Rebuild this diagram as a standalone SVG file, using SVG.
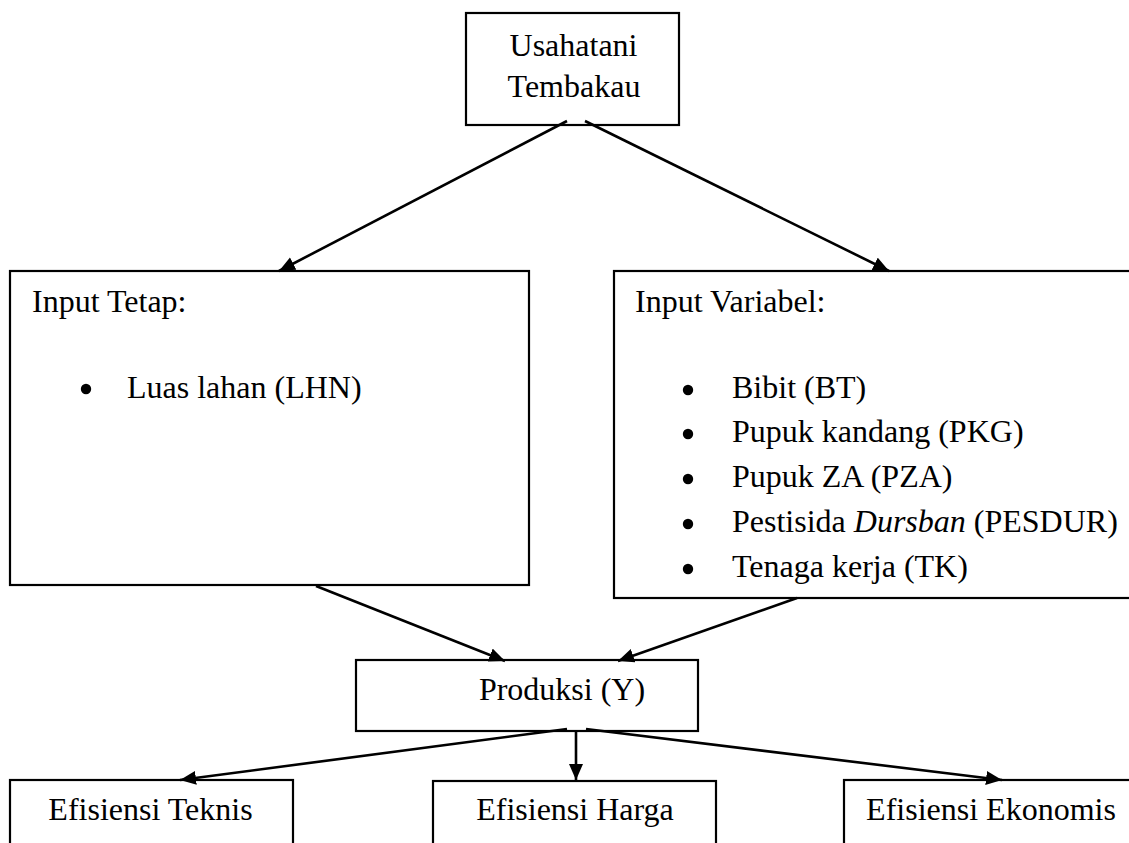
<svg xmlns="http://www.w3.org/2000/svg" width="1129" height="843" viewBox="0 0 1129 843">
<style>
.box{fill:#fff;stroke:#000;stroke-width:2.2}
text{font-family:"Liberation Serif","Times New Roman",serif;font-size:32px;fill:#000}
.c{text-anchor:middle}
.ln{stroke:#000;stroke-width:2.6;fill:none;marker-end:url(#ah)}
</style>
<defs>
<marker id="ah" markerUnits="userSpaceOnUse" markerWidth="18" markerHeight="16" refX="16" refY="7" orient="auto">
<path d="M0,0 L16,7 L0,14 z" fill="#000"/>
</marker>
</defs>
<rect width="1129" height="843" fill="#fff"/>
<g id="usahatani">
<rect class="box" x="466" y="13" width="213" height="112"/>
<text class="c" x="573.5" y="56">Usahatani</text>
<text class="c" x="574" y="97">Tembakau</text>
</g>
<g id="input-tetap">
<rect class="box" x="10" y="271" width="519" height="314"/>
<text x="32" y="312">Input Tetap:</text>
<circle cx="86" cy="389" r="5.2"/>
<text x="127" y="398">Luas lahan (LHN)</text>
</g>
<g id="input-variabel">
<rect class="box" x="614" y="271" width="525" height="327"/>
<text x="635" y="312">Input Variabel:</text>
<circle cx="688" cy="390" r="5.2"/>
<text x="732" y="398">Bibit (BT)</text>
<circle cx="688" cy="434" r="5.2"/>
<text x="732" y="442">Pupuk kandang (PKG)</text>
<circle cx="688" cy="479" r="5.2"/>
<text x="732" y="487">Pupuk ZA (PZA)</text>
<circle cx="688" cy="524" r="5.2"/>
<text x="732" y="532">Pestisida <tspan font-style="italic">Dursban</tspan> (PESDUR)</text>
<circle cx="688" cy="569" r="5.2"/>
<text x="732" y="577">Tenaga kerja (TK)</text>
</g>
<g id="produksi">
<rect class="box" x="356" y="660" width="342" height="71"/>
<text class="c" x="562" y="700">Produksi (Y)</text>
</g>
<g id="ef-teknis">
<rect class="box" x="10" y="780" width="283" height="80"/>
<text class="c" x="150.5" y="820">Efisiensi Teknis</text>
</g>
<g id="ef-harga">
<rect class="box" x="433" y="781" width="283" height="80"/>
<text class="c" x="575" y="820">Efisiensi Harga</text>
</g>
<g id="ef-ekonomis">
<rect class="box" x="844" y="780" width="295" height="80"/>
<text class="c" x="991" y="820">Efisiensi Ekonomis</text>
</g>
<g id="connectors">
<line class="ln" x1="567" y1="121" x2="279" y2="271"/>
<line class="ln" x1="585" y1="121" x2="889" y2="271"/>
<line class="ln" x1="316" y1="586" x2="505" y2="661"/>
<line class="ln" x1="797" y1="598" x2="618" y2="661"/>
<line class="ln" x1="567" y1="729" x2="180" y2="780"/>
<line class="ln" x1="576" y1="731" x2="576" y2="780"/>
<line class="ln" x1="586" y1="729" x2="1002" y2="780"/>
</g>
</svg>
